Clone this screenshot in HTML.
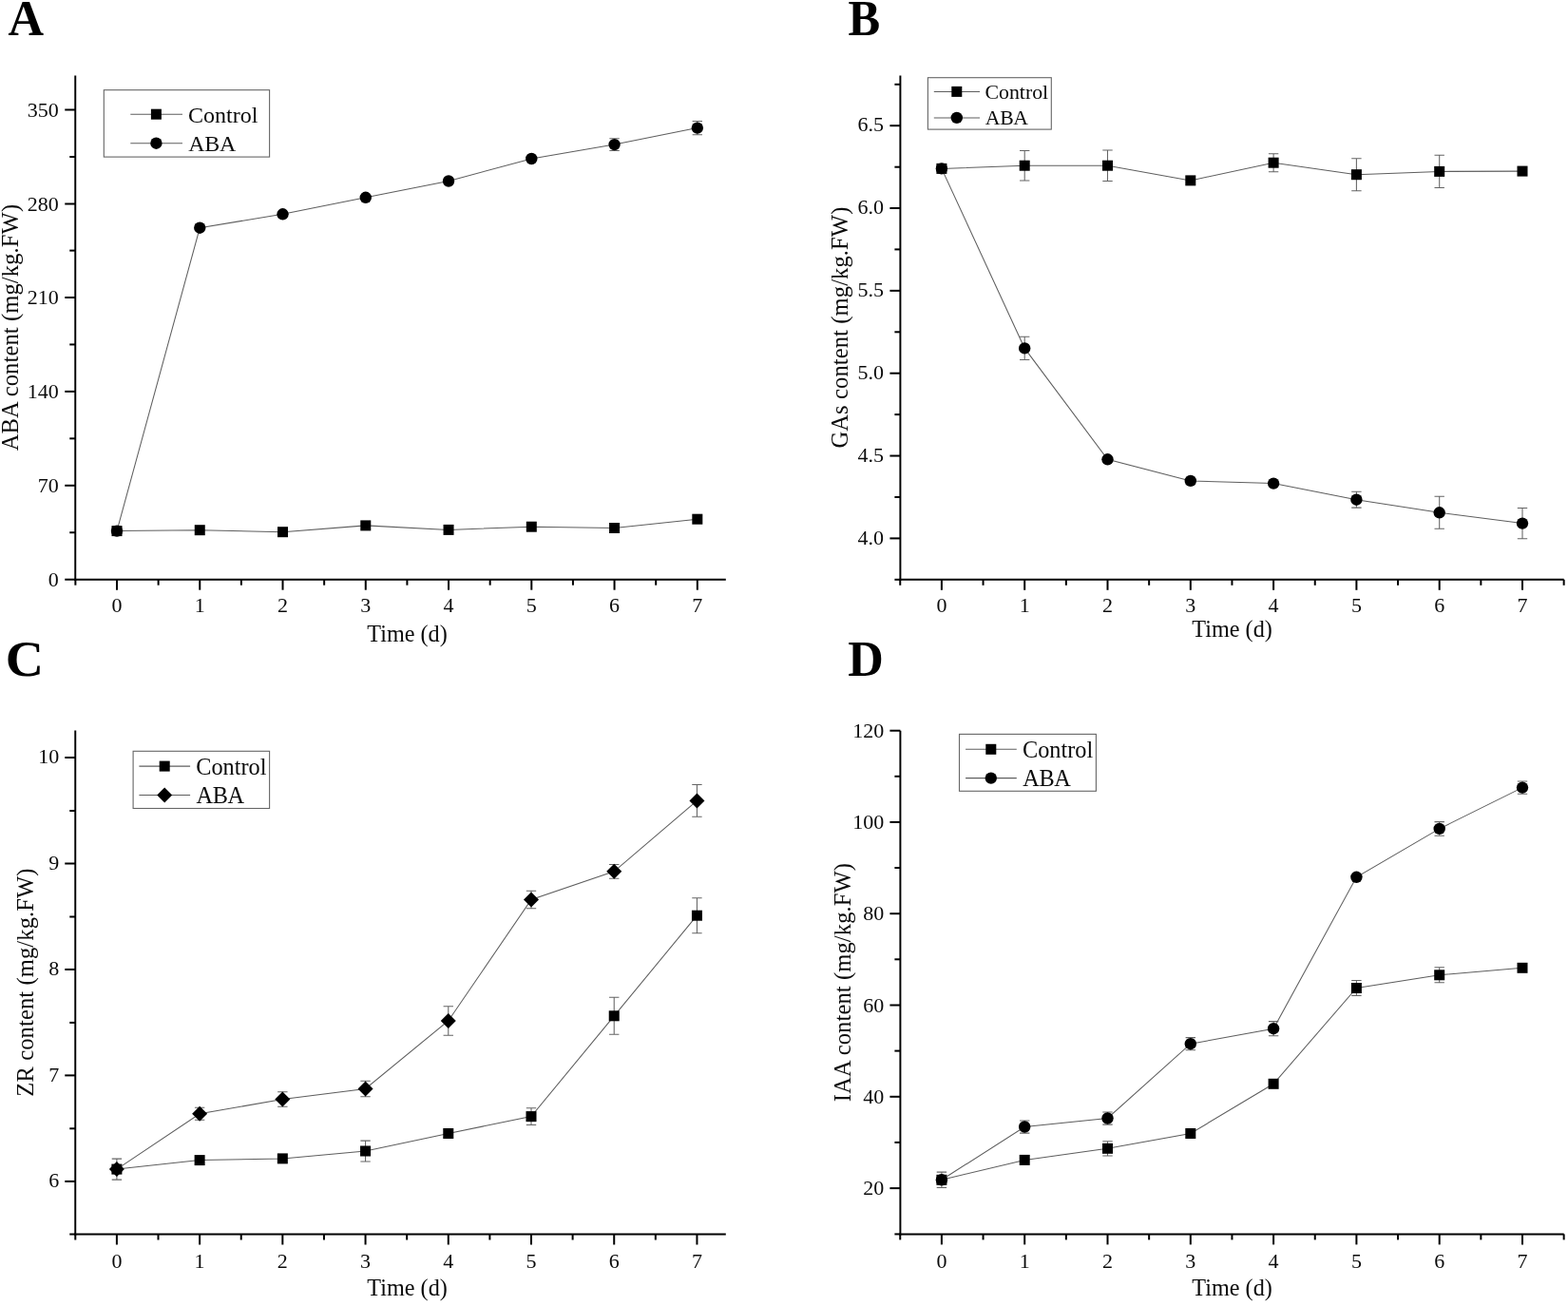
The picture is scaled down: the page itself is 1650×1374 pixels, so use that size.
<!DOCTYPE html>
<html lang="en">
<head>
<meta charset="utf-8">
<title>Hormone content time course (A: ABA, B: GAs, C: ZR, D: IAA)</title>
<style>
html,body{margin:0;padding:0;background:#fff;}
body{width:1650px;height:1374px;overflow:hidden;}
svg{display:block;}
text{font-family:"Liberation Serif", serif;fill:#0a0a0a;}
.letter{font-size:52px;font-weight:bold;fill:#000;}
.ticklab text{font-size:22px;}
.axlab{font-size:24px;}
.ylab{font-size:24.6px;letter-spacing:0.09px;}
.xlab{font-size:24.2px;}
.ax{stroke:#000;stroke-width:1.95;fill:none;}
.tk{stroke:#000;stroke-width:2.0;fill:none;}
.ln{stroke:#5e5e5e;stroke-width:1.05;fill:none;}
.eb{stroke:#646464;stroke-width:1.05;fill:none;}
.mk{fill:#000;stroke:none;}
.lbox{fill:#fff;stroke:#666;stroke-width:1.1;}
</style>
</head>
<body>
<svg width="1650" height="1374" viewBox="0 0 1650 1374" role="img" aria-label="Four line charts of hormone content over time for Control and ABA treatments">
<rect x="0" y="0" width="1650" height="1374" fill="#fff"/>
<g class="panel" id="panel-a">
<text class="letter" transform="translate(8.5 36.7) scale(1.0 1.02)">A</text>
<g class="axis"><line class="ax" x1="79.25" y1="79.5" x2="79.25" y2="610.68"/><line class="ax" x1="78.28" y1="609.7" x2="763.8" y2="609.7"/><line class="tk" x1="123" y1="609.7" x2="123" y2="620.7"/><line class="tk" x1="210.26" y1="609.7" x2="210.26" y2="620.7"/><line class="tk" x1="297.52" y1="609.7" x2="297.52" y2="620.7"/><line class="tk" x1="384.78" y1="609.7" x2="384.78" y2="620.7"/><line class="tk" x1="472.04" y1="609.7" x2="472.04" y2="620.7"/><line class="tk" x1="559.3" y1="609.7" x2="559.3" y2="620.7"/><line class="tk" x1="646.56" y1="609.7" x2="646.56" y2="620.7"/><line class="tk" x1="733.82" y1="609.7" x2="733.82" y2="620.7"/><line class="tk" x1="79.37" y1="609.7" x2="79.37" y2="615.7"/><line class="tk" x1="166.63" y1="609.7" x2="166.63" y2="615.7"/><line class="tk" x1="253.89" y1="609.7" x2="253.89" y2="615.7"/><line class="tk" x1="341.15" y1="609.7" x2="341.15" y2="615.7"/><line class="tk" x1="428.41" y1="609.7" x2="428.41" y2="615.7"/><line class="tk" x1="515.67" y1="609.7" x2="515.67" y2="615.7"/><line class="tk" x1="602.93" y1="609.7" x2="602.93" y2="615.7"/><line class="tk" x1="690.19" y1="609.7" x2="690.19" y2="615.7"/><line class="tk" x1="79.25" y1="609.7" x2="68.25" y2="609.7"/><line class="tk" x1="79.25" y1="510.8" x2="68.25" y2="510.8"/><line class="tk" x1="79.25" y1="411.9" x2="68.25" y2="411.9"/><line class="tk" x1="79.25" y1="313" x2="68.25" y2="313"/><line class="tk" x1="79.25" y1="214.5" x2="68.25" y2="214.5"/><line class="tk" x1="79.25" y1="115.5" x2="68.25" y2="115.5"/><line class="tk" x1="79.25" y1="560.25" x2="73.25" y2="560.25"/><line class="tk" x1="79.25" y1="461.35" x2="73.25" y2="461.35"/><line class="tk" x1="79.25" y1="362.45" x2="73.25" y2="362.45"/><line class="tk" x1="79.25" y1="263.6" x2="73.25" y2="263.6"/><line class="tk" x1="79.25" y1="165" x2="73.25" y2="165"/></g>
<g class="ticklab"><text x="123" y="644.4" text-anchor="middle">0</text><text x="210.26" y="644.4" text-anchor="middle">1</text><text x="297.52" y="644.4" text-anchor="middle">2</text><text x="384.78" y="644.4" text-anchor="middle">3</text><text x="472.04" y="644.4" text-anchor="middle">4</text><text x="559.3" y="644.4" text-anchor="middle">5</text><text x="646.56" y="644.4" text-anchor="middle">6</text><text x="733.82" y="644.4" text-anchor="middle">7</text><text x="61.8" y="616.7" text-anchor="end">0</text><text x="61.8" y="517.8" text-anchor="end">70</text><text x="61.8" y="418.9" text-anchor="end">140</text><text x="61.8" y="320" text-anchor="end">210</text><text x="61.8" y="221.5" text-anchor="end">280</text><text x="61.8" y="122.5" text-anchor="end">350</text></g>
<text class="axlab xlab" x="428.5" y="675.1" text-anchor="middle">Time (d)</text>
<text class="axlab ylab" transform="translate(18.7 344.6) rotate(-90)" text-anchor="middle">ABA content (mg/kg.FW)</text>
<g class="series">
<polyline class="ln" points="123,558.6 210.26,557.7 297.52,559.7 384.78,552.9 472.04,557.4 559.3,554.2 646.56,555.5 733.82,546.2"/>
<g class="mk"><rect x="117.5" y="553.1" width="11" height="11"/><rect x="204.76" y="552.2" width="11" height="11"/><rect x="292.02" y="554.2" width="11" height="11"/><rect x="379.28" y="547.4" width="11" height="11"/><rect x="466.54" y="551.9" width="11" height="11"/><rect x="553.8" y="548.7" width="11" height="11"/><rect x="641.06" y="550" width="11" height="11"/><rect x="728.32" y="540.7" width="11" height="11"/></g>
</g>
<g class="series">
<polyline class="ln" points="123,558.6 210.26,239.7 297.52,225.3 384.78,207.8 472.04,190.5 559.3,167 646.56,152.1 733.82,134.6"/>
<path class="eb" d="M646.56 145.7V158.5M641.36 145.7H651.76M641.36 158.5H651.76M733.82 127.5V141.7M728.62 127.5H739.02M728.62 141.7H739.02"/>
<g class="mk"><circle cx="123" cy="558.6" r="6.2"/><circle cx="210.26" cy="239.7" r="6.2"/><circle cx="297.52" cy="225.3" r="6.2"/><circle cx="384.78" cy="207.8" r="6.2"/><circle cx="472.04" cy="190.5" r="6.2"/><circle cx="559.3" cy="167" r="6.2"/><circle cx="646.56" cy="152.1" r="6.2"/><circle cx="733.82" cy="134.6" r="6.2"/></g>
</g>
<g class="legend">
<rect class="lbox" x="109.3" y="94.7" width="174.3" height="70.4"/>
<line class="ln" x1="137.3" y1="120.2" x2="192" y2="120.2"/>
<g class="mk"><rect x="158.9" y="114.7" width="11" height="11"/></g>
<text class="legtxt" style="font-size:24px" x="198" y="128.7">Control</text>
<line class="ln" x1="137.3" y1="150.7" x2="192" y2="150.7"/>
<g class="mk"><circle cx="164.4" cy="150.7" r="6.2"/></g>
<text class="legtxt" style="font-size:24px;letter-spacing:-0.3px" x="198.2" y="158.6">ABA</text>
</g>
</g>
<g class="panel" id="panel-b">
<text class="letter" transform="translate(892.5 36.6) scale(0.972 1.0)">B</text>
<g class="axis"><line class="ax" x1="947.4" y1="79.4" x2="947.4" y2="610.77"/><line class="ax" x1="946.42" y1="609.8" x2="1645.7" y2="609.8"/><line class="tk" x1="990.9" y1="609.8" x2="990.9" y2="620.8"/><line class="tk" x1="1078.2" y1="609.8" x2="1078.2" y2="620.8"/><line class="tk" x1="1165.5" y1="609.8" x2="1165.5" y2="620.8"/><line class="tk" x1="1252.8" y1="609.8" x2="1252.8" y2="620.8"/><line class="tk" x1="1340.1" y1="609.8" x2="1340.1" y2="620.8"/><line class="tk" x1="1427.4" y1="609.8" x2="1427.4" y2="620.8"/><line class="tk" x1="1514.7" y1="609.8" x2="1514.7" y2="620.8"/><line class="tk" x1="1602" y1="609.8" x2="1602" y2="620.8"/><line class="tk" x1="947.25" y1="609.8" x2="947.25" y2="615.8"/><line class="tk" x1="1034.55" y1="609.8" x2="1034.55" y2="615.8"/><line class="tk" x1="1121.85" y1="609.8" x2="1121.85" y2="615.8"/><line class="tk" x1="1209.15" y1="609.8" x2="1209.15" y2="615.8"/><line class="tk" x1="1296.45" y1="609.8" x2="1296.45" y2="615.8"/><line class="tk" x1="1383.75" y1="609.8" x2="1383.75" y2="615.8"/><line class="tk" x1="1471.05" y1="609.8" x2="1471.05" y2="615.8"/><line class="tk" x1="1558.35" y1="609.8" x2="1558.35" y2="615.8"/><line class="tk" x1="1645.65" y1="609.8" x2="1645.65" y2="615.8"/><line class="tk" x1="947.4" y1="566.4" x2="936.4" y2="566.4"/><line class="tk" x1="947.4" y1="479.55" x2="936.4" y2="479.55"/><line class="tk" x1="947.4" y1="392.7" x2="936.4" y2="392.7"/><line class="tk" x1="947.4" y1="305.85" x2="936.4" y2="305.85"/><line class="tk" x1="947.4" y1="219" x2="936.4" y2="219"/><line class="tk" x1="947.4" y1="132.2" x2="936.4" y2="132.2"/><line class="tk" x1="947.4" y1="609.8" x2="941.4" y2="609.8"/><line class="tk" x1="947.4" y1="523" x2="941.4" y2="523"/><line class="tk" x1="947.4" y1="436.1" x2="941.4" y2="436.1"/><line class="tk" x1="947.4" y1="349.3" x2="941.4" y2="349.3"/><line class="tk" x1="947.4" y1="262.4" x2="941.4" y2="262.4"/><line class="tk" x1="947.4" y1="175.7" x2="941.4" y2="175.7"/><line class="tk" x1="947.4" y1="88.8" x2="941.4" y2="88.8"/></g>
<g class="ticklab"><text x="990.9" y="644.4" text-anchor="middle">0</text><text x="1078.2" y="644.4" text-anchor="middle">1</text><text x="1165.5" y="644.4" text-anchor="middle">2</text><text x="1252.8" y="644.4" text-anchor="middle">3</text><text x="1340.1" y="644.4" text-anchor="middle">4</text><text x="1427.4" y="644.4" text-anchor="middle">5</text><text x="1514.7" y="644.4" text-anchor="middle">6</text><text x="1602" y="644.4" text-anchor="middle">7</text><text x="930" y="572.6" text-anchor="end">4.0</text><text x="930" y="485.75" text-anchor="end">4.5</text><text x="930" y="398.9" text-anchor="end">5.0</text><text x="930" y="312.05" text-anchor="end">5.5</text><text x="930" y="225.2" text-anchor="end">6.0</text><text x="930" y="138.4" text-anchor="end">6.5</text></g>
<text class="axlab xlab" x="1296.6" y="670" text-anchor="middle">Time (d)</text>
<text class="axlab ylab" transform="translate(892.4 344.6) rotate(-90)" text-anchor="middle">GAs content (mg/kg.FW)</text>
<g class="series">
<polyline class="ln" points="990.9,177.4 1078.2,174.2 1165.5,174.2 1252.8,189.9 1340.1,171.2 1427.4,183.7 1514.7,180.4 1602,180.1"/>
<path class="eb" d="M1078.2 158.4V190M1073 158.4H1083.4M1073 190H1083.4M1165.5 158V190.4M1160.3 158H1170.7M1160.3 190.4H1170.7M1340.1 161.7V180.7M1334.9 161.7H1345.3M1334.9 180.7H1345.3M1427.4 166.7V200.7M1422.2 166.7H1432.6M1422.2 200.7H1432.6M1514.7 163.3V197.5M1509.5 163.3H1519.9M1509.5 197.5H1519.9"/>
<g class="mk"><rect x="985.4" y="171.9" width="11" height="11"/><rect x="1072.7" y="168.7" width="11" height="11"/><rect x="1160" y="168.7" width="11" height="11"/><rect x="1247.3" y="184.4" width="11" height="11"/><rect x="1334.6" y="165.7" width="11" height="11"/><rect x="1421.9" y="178.2" width="11" height="11"/><rect x="1509.2" y="174.9" width="11" height="11"/><rect x="1596.5" y="174.6" width="11" height="11"/></g>
</g>
<g class="series">
<polyline class="ln" points="990.9,177.4 1078.2,366.4 1165.5,483.3 1252.8,505.9 1340.1,508.6 1427.4,525.7 1514.7,539.3 1602,550.6"/>
<path class="eb" d="M1078.2 354.3V378.5M1073 354.3H1083.4M1073 378.5H1083.4M1427.4 517.3V534.1M1422.2 517.3H1432.6M1422.2 534.1H1432.6M1514.7 522.3V556.3M1509.5 522.3H1519.9M1509.5 556.3H1519.9M1602 534.5V566.7M1596.8 534.5H1607.2M1596.8 566.7H1607.2"/>
<g class="mk"><circle cx="990.9" cy="177.4" r="6.2"/><circle cx="1078.2" cy="366.4" r="6.2"/><circle cx="1165.5" cy="483.3" r="6.2"/><circle cx="1252.8" cy="505.9" r="6.2"/><circle cx="1340.1" cy="508.6" r="6.2"/><circle cx="1427.4" cy="525.7" r="6.2"/><circle cx="1514.7" cy="539.3" r="6.2"/><circle cx="1602" cy="550.6" r="6.2"/></g>
</g>
<g class="legend">
<rect class="lbox" x="976.4" y="81.7" width="129.9" height="54.4"/>
<line class="ln" x1="982.8" y1="96.4" x2="1031" y2="96.4"/>
<g class="mk"><rect x="1001.3" y="90.9" width="11" height="11"/></g>
<text class="legtxt" style="font-size:21.8px" x="1036.5" y="104">Control</text>
<line class="ln" x1="982.8" y1="123.9" x2="1031" y2="123.9"/>
<g class="mk"><circle cx="1006.8" cy="123.9" r="6.2"/></g>
<text class="legtxt" style="font-size:21.8px;letter-spacing:-0.3px" x="1036.7" y="130.6">ABA</text>
</g>
</g>
<g class="panel" id="panel-c">
<text class="letter" transform="translate(5.8 711.4) scale(1.073 1.034)">C</text>
<g class="axis"><line class="ax" x1="79.25" y1="768.6" x2="79.25" y2="1299.47"/><line class="ax" x1="78.28" y1="1298.5" x2="763.8" y2="1298.5"/><line class="tk" x1="122.9" y1="1298.5" x2="122.9" y2="1309.5"/><line class="tk" x1="210.12" y1="1298.5" x2="210.12" y2="1309.5"/><line class="tk" x1="297.34" y1="1298.5" x2="297.34" y2="1309.5"/><line class="tk" x1="384.56" y1="1298.5" x2="384.56" y2="1309.5"/><line class="tk" x1="471.78" y1="1298.5" x2="471.78" y2="1309.5"/><line class="tk" x1="559" y1="1298.5" x2="559" y2="1309.5"/><line class="tk" x1="646.22" y1="1298.5" x2="646.22" y2="1309.5"/><line class="tk" x1="733.44" y1="1298.5" x2="733.44" y2="1309.5"/><line class="tk" x1="79.29" y1="1298.5" x2="79.29" y2="1304.5"/><line class="tk" x1="166.51" y1="1298.5" x2="166.51" y2="1304.5"/><line class="tk" x1="253.73" y1="1298.5" x2="253.73" y2="1304.5"/><line class="tk" x1="340.95" y1="1298.5" x2="340.95" y2="1304.5"/><line class="tk" x1="428.17" y1="1298.5" x2="428.17" y2="1304.5"/><line class="tk" x1="515.39" y1="1298.5" x2="515.39" y2="1304.5"/><line class="tk" x1="602.61" y1="1298.5" x2="602.61" y2="1304.5"/><line class="tk" x1="689.83" y1="1298.5" x2="689.83" y2="1304.5"/><line class="tk" x1="79.25" y1="1242.9" x2="68.25" y2="1242.9"/><line class="tk" x1="79.25" y1="1131.4" x2="68.25" y2="1131.4"/><line class="tk" x1="79.25" y1="1019.95" x2="68.25" y2="1019.95"/><line class="tk" x1="79.25" y1="908.5" x2="68.25" y2="908.5"/><line class="tk" x1="79.25" y1="797" x2="68.25" y2="797"/><line class="tk" x1="79.25" y1="1298.5" x2="73.25" y2="1298.5"/><line class="tk" x1="79.25" y1="1187.3" x2="73.25" y2="1187.3"/><line class="tk" x1="79.25" y1="1075.9" x2="73.25" y2="1075.9"/><line class="tk" x1="79.25" y1="964.5" x2="73.25" y2="964.5"/><line class="tk" x1="79.25" y1="853" x2="73.25" y2="853"/></g>
<g class="ticklab"><text x="122.9" y="1333.6" text-anchor="middle">0</text><text x="210.12" y="1333.6" text-anchor="middle">1</text><text x="297.34" y="1333.6" text-anchor="middle">2</text><text x="384.56" y="1333.6" text-anchor="middle">3</text><text x="471.78" y="1333.6" text-anchor="middle">4</text><text x="559" y="1333.6" text-anchor="middle">5</text><text x="646.22" y="1333.6" text-anchor="middle">6</text><text x="733.44" y="1333.6" text-anchor="middle">7</text><text x="62.3" y="1249" text-anchor="end">6</text><text x="62.3" y="1137.5" text-anchor="end">7</text><text x="62.3" y="1026.05" text-anchor="end">8</text><text x="62.3" y="914.6" text-anchor="end">9</text><text x="62.3" y="803.1" text-anchor="end">10</text></g>
<text class="axlab xlab" x="428.6" y="1363.4" text-anchor="middle">Time (d)</text>
<text class="axlab ylab" transform="translate(34.9 1033.5) rotate(-90)" text-anchor="middle">ZR content (mg/kg.FW)</text>
<g class="series">
<polyline class="ln" points="122.9,1230.1 210.12,1220.6 297.34,1218.9 384.56,1211 471.78,1192.5 559,1174.6 646.22,1068.8 733.44,963.2"/>
<path class="eb" d="M384.56 1200.1V1221.9M379.36 1200.1H389.76M379.36 1221.9H389.76M559 1165.7V1183.5M553.8 1165.7H564.2M553.8 1183.5H564.2M646.22 1049.3V1088.3M641.02 1049.3H651.42M641.02 1088.3H651.42M733.44 944.7V981.7M728.24 944.7H738.64M728.24 981.7H738.64"/>
<g class="mk"><rect x="117.4" y="1224.6" width="11" height="11"/><rect x="204.62" y="1215.1" width="11" height="11"/><rect x="291.84" y="1213.4" width="11" height="11"/><rect x="379.06" y="1205.5" width="11" height="11"/><rect x="466.28" y="1187" width="11" height="11"/><rect x="553.5" y="1169.1" width="11" height="11"/><rect x="640.72" y="1063.3" width="11" height="11"/><rect x="727.94" y="957.7" width="11" height="11"/></g>
</g>
<g class="series">
<polyline class="ln" points="122.9,1230.1 210.12,1171.8 297.34,1156.5 384.56,1145.5 471.78,1074 559,946.5 646.22,916.8 733.44,842.4"/>
<path class="eb" d="M122.9 1219.1V1241.1M117.7 1219.1H128.1M117.7 1241.1H128.1M210.12 1165.3V1178.3M204.92 1165.3H215.32M204.92 1178.3H215.32M297.34 1148.8V1164.2M292.14 1148.8H302.54M292.14 1164.2H302.54M384.56 1137.2V1153.8M379.36 1137.2H389.76M379.36 1153.8H389.76M471.78 1058.7V1089.3M466.58 1058.7H476.98M466.58 1089.3H476.98M559 937.3V955.7M553.8 937.3H564.2M553.8 955.7H564.2M646.22 909.4V924.2M641.02 909.4H651.42M641.02 924.2H651.42M733.44 825.5V859.3M728.24 825.5H738.64M728.24 859.3H738.64"/>
<g class="mk"><polygon points="122.9,1222.1 130.9,1230.1 122.9,1238.1 114.9,1230.1"/><polygon points="210.12,1163.8 218.12,1171.8 210.12,1179.8 202.12,1171.8"/><polygon points="297.34,1148.5 305.34,1156.5 297.34,1164.5 289.34,1156.5"/><polygon points="384.56,1137.5 392.56,1145.5 384.56,1153.5 376.56,1145.5"/><polygon points="471.78,1066 479.78,1074 471.78,1082 463.78,1074"/><polygon points="559,938.5 567,946.5 559,954.5 551,946.5"/><polygon points="646.22,908.8 654.22,916.8 646.22,924.8 638.22,916.8"/><polygon points="733.44,834.4 741.44,842.4 733.44,850.4 725.44,842.4"/></g>
</g>
<g class="legend">
<rect class="lbox" x="140.1" y="790.3" width="143.5" height="60.2"/>
<line class="ln" x1="146.4" y1="806.1" x2="200.1" y2="806.1"/>
<g class="mk"><rect x="167.7" y="800.6" width="11" height="11"/></g>
<text class="legtxt" style="font-size:24.3px" x="206.2" y="814.7">Control</text>
<line class="ln" x1="146.4" y1="836.5" x2="200.1" y2="836.5"/>
<g class="mk"><polygon points="173.2,828.5 181.2,836.5 173.2,844.5 165.2,836.5"/></g>
<text class="legtxt" style="font-size:24.3px;letter-spacing:-0.3px" x="206.4" y="844.7">ABA</text>
</g>
</g>
<g class="panel" id="panel-d">
<text class="letter" transform="translate(892.2 711.4) scale(1.0 1.016)">D</text>
<g class="axis"><line class="ax" x1="947.4" y1="768.7" x2="947.4" y2="1299.38"/><line class="ax" x1="946.42" y1="1298.4" x2="1645.7" y2="1298.4"/><line class="tk" x1="990.9" y1="1298.4" x2="990.9" y2="1309.4"/><line class="tk" x1="1078.2" y1="1298.4" x2="1078.2" y2="1309.4"/><line class="tk" x1="1165.5" y1="1298.4" x2="1165.5" y2="1309.4"/><line class="tk" x1="1252.8" y1="1298.4" x2="1252.8" y2="1309.4"/><line class="tk" x1="1340.1" y1="1298.4" x2="1340.1" y2="1309.4"/><line class="tk" x1="1427.4" y1="1298.4" x2="1427.4" y2="1309.4"/><line class="tk" x1="1514.7" y1="1298.4" x2="1514.7" y2="1309.4"/><line class="tk" x1="1602" y1="1298.4" x2="1602" y2="1309.4"/><line class="tk" x1="947.25" y1="1298.4" x2="947.25" y2="1304.4"/><line class="tk" x1="1034.55" y1="1298.4" x2="1034.55" y2="1304.4"/><line class="tk" x1="1121.85" y1="1298.4" x2="1121.85" y2="1304.4"/><line class="tk" x1="1209.15" y1="1298.4" x2="1209.15" y2="1304.4"/><line class="tk" x1="1296.45" y1="1298.4" x2="1296.45" y2="1304.4"/><line class="tk" x1="1383.75" y1="1298.4" x2="1383.75" y2="1304.4"/><line class="tk" x1="1471.05" y1="1298.4" x2="1471.05" y2="1304.4"/><line class="tk" x1="1558.35" y1="1298.4" x2="1558.35" y2="1304.4"/><line class="tk" x1="1645.65" y1="1298.4" x2="1645.65" y2="1304.4"/><line class="tk" x1="947.4" y1="1250.1" x2="936.4" y2="1250.1"/><line class="tk" x1="947.4" y1="1153.8" x2="936.4" y2="1153.8"/><line class="tk" x1="947.4" y1="1057.5" x2="936.4" y2="1057.5"/><line class="tk" x1="947.4" y1="961.2" x2="936.4" y2="961.2"/><line class="tk" x1="947.4" y1="864.9" x2="936.4" y2="864.9"/><line class="tk" x1="947.4" y1="768.7" x2="936.4" y2="768.7"/><line class="tk" x1="947.4" y1="1298.4" x2="941.4" y2="1298.4"/><line class="tk" x1="947.4" y1="1201.9" x2="941.4" y2="1201.9"/><line class="tk" x1="947.4" y1="1105.6" x2="941.4" y2="1105.6"/><line class="tk" x1="947.4" y1="1009.3" x2="941.4" y2="1009.3"/><line class="tk" x1="947.4" y1="913" x2="941.4" y2="913"/><line class="tk" x1="947.4" y1="816.8" x2="941.4" y2="816.8"/></g>
<g class="ticklab"><text x="990.9" y="1333.6" text-anchor="middle">0</text><text x="1078.2" y="1333.6" text-anchor="middle">1</text><text x="1165.5" y="1333.6" text-anchor="middle">2</text><text x="1252.8" y="1333.6" text-anchor="middle">3</text><text x="1340.1" y="1333.6" text-anchor="middle">4</text><text x="1427.4" y="1333.6" text-anchor="middle">5</text><text x="1514.7" y="1333.6" text-anchor="middle">6</text><text x="1602" y="1333.6" text-anchor="middle">7</text><text x="930.3" y="1257.1" text-anchor="end">20</text><text x="930.3" y="1160.8" text-anchor="end">40</text><text x="930.3" y="1064.5" text-anchor="end">60</text><text x="930.3" y="968.2" text-anchor="end">80</text><text x="930.3" y="871.9" text-anchor="end">100</text><text x="930.3" y="775.7" text-anchor="end">120</text></g>
<text class="axlab xlab" x="1296.6" y="1363.2" text-anchor="middle">Time (d)</text>
<text class="axlab ylab" transform="translate(895.3 1033.5) rotate(-90)" text-anchor="middle">IAA content (mg/kg.FW)</text>
<g class="series">
<polyline class="ln" points="990.9,1241.3 1078.2,1220.4 1165.5,1208.3 1252.8,1192.5 1340.1,1140.3 1427.4,1039.5 1514.7,1025.8 1602,1018.3"/>
<path class="eb" d="M1165.5 1200.7V1215.9M1160.3 1200.7H1170.7M1160.3 1215.9H1170.7M1427.4 1031.5V1047.5M1422.2 1031.5H1432.6M1422.2 1047.5H1432.6M1514.7 1017.8V1033.8M1509.5 1017.8H1519.9M1509.5 1033.8H1519.9"/>
<g class="mk"><rect x="985.4" y="1235.8" width="11" height="11"/><rect x="1072.7" y="1214.9" width="11" height="11"/><rect x="1160" y="1202.8" width="11" height="11"/><rect x="1247.3" y="1187" width="11" height="11"/><rect x="1334.6" y="1134.8" width="11" height="11"/><rect x="1421.9" y="1034" width="11" height="11"/><rect x="1509.2" y="1020.3" width="11" height="11"/><rect x="1596.5" y="1012.8" width="11" height="11"/></g>
</g>
<g class="series">
<polyline class="ln" points="990.9,1241.3 1078.2,1185.5 1165.5,1176.5 1252.8,1098.2 1340.1,1082.2 1427.4,922.8 1514.7,871.9 1602,828.6"/>
<path class="eb" d="M990.9 1233.1V1249.5M985.7 1233.1H996.1M985.7 1249.5H996.1M1078.2 1178.9V1192.1M1073 1178.9H1083.4M1073 1192.1H1083.4M1165.5 1169.9V1183.1M1160.3 1169.9H1170.7M1160.3 1183.1H1170.7M1252.8 1091.6V1104.8M1247.6 1091.6H1258M1247.6 1104.8H1258M1340.1 1074.6V1089.8M1334.9 1074.6H1345.3M1334.9 1089.8H1345.3M1514.7 864.6V879.2M1509.5 864.6H1519.9M1509.5 879.2H1519.9M1602 821.9V835.3M1596.8 821.9H1607.2M1596.8 835.3H1607.2"/>
<g class="mk"><circle cx="990.9" cy="1241.3" r="6.2"/><circle cx="1078.2" cy="1185.5" r="6.2"/><circle cx="1165.5" cy="1176.5" r="6.2"/><circle cx="1252.8" cy="1098.2" r="6.2"/><circle cx="1340.1" cy="1082.2" r="6.2"/><circle cx="1427.4" cy="922.8" r="6.2"/><circle cx="1514.7" cy="871.9" r="6.2"/><circle cx="1602" cy="828.6" r="6.2"/></g>
</g>
<g class="legend">
<rect class="lbox" x="1009.5" y="772.4" width="143.9" height="59.9"/>
<line class="ln" x1="1016.1" y1="788.3" x2="1069.8" y2="788.3"/>
<g class="mk"><rect x="1037.3" y="782.8" width="11" height="11"/></g>
<text class="legtxt" style="font-size:24.3px" x="1076" y="796.6">Control</text>
<line class="ln" x1="1016.1" y1="818.6" x2="1069.8" y2="818.6"/>
<g class="mk"><circle cx="1042.8" cy="818.6" r="6.2"/></g>
<text class="legtxt" style="font-size:24.3px;letter-spacing:-0.3px" x="1076.2" y="826.6">ABA</text>
</g>
</g>
</svg>
</body>
</html>
